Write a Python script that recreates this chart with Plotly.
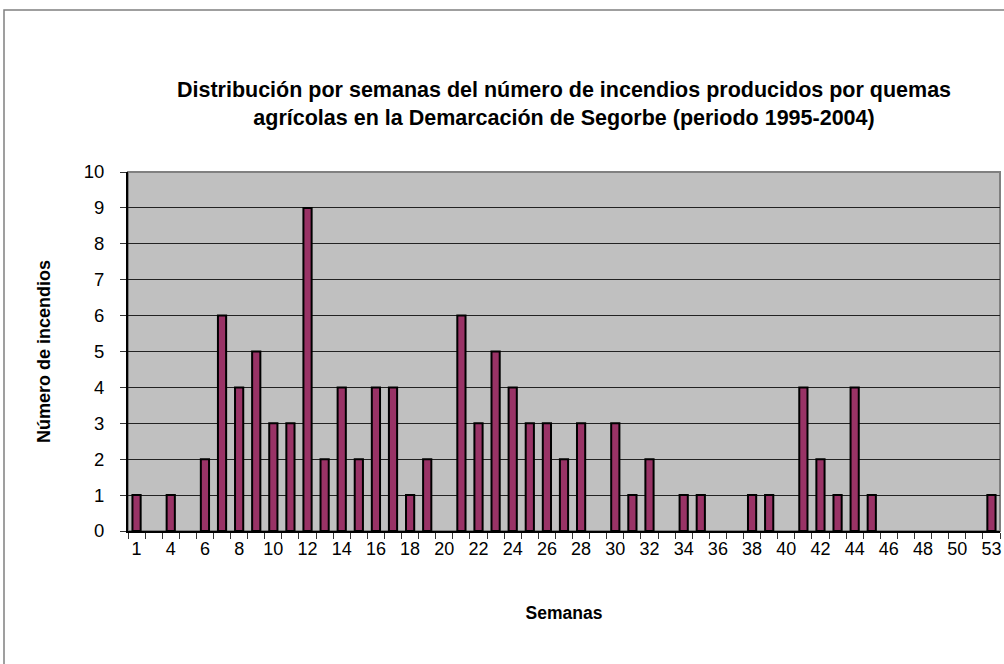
import plotly.graph_objects as go

semanas = ["1", "2", "4", "5", "6", "7", "8", "9", "10", "11", "12", "13", "14", "15", "16",
           "17", "18", "19", "20", "21", "22", "23", "24", "25", "26", "27", "28", "29", "30",
           "31", "32", "33", "34", "35", "36", "37", "38", "39", "40", "41", "42", "43", "44",
           "45", "46", "47", "48", "49", "50", "52", "53"]
incendios = [1, 0, 1, 0, 2, 6, 4, 5, 3, 3, 9, 2, 4, 2, 4,
             4, 1, 2, 0, 6, 3, 5, 4, 3, 3, 2, 3, 0, 3,
             1, 2, 0, 1, 1, 0, 0, 1, 1, 0, 4, 2, 1, 4,
             1, 0, 0, 0, 0, 0, 0, 1]
etiquetas_x = ["1", "4", "6", "8", "10", "12", "14", "16", "18", "20", "22", "24", "26",
               "28", "30", "32", "34", "36", "38", "40", "42", "44", "46", "48", "50", "53"]

titulo = ("Distribución por semanas del número de incendios producidos por quemas<br>"
          "agrícolas en la Demarcación de Segorbe (periodo 1995-2004)")

W, H = 1004, 664
L, R, T, B = 128, 4, 172, 133
pw, ph = W - L - R, H - T - B

FONT = "Liberation Sans, Arial, sans-serif"

# zero-valued weeks draw no bar (as in the original chart)
y_vals = [v if v > 0 else None for v in incendios]

fig = go.Figure()
fig.add_trace(go.Bar(
    x=semanas, y=y_vals,
    marker=dict(color="#993366", line=dict(color="#000000", width=2)),
    width=0.48,
    hoverinfo="x+y",
))

ticktext = [s if s in etiquetas_x else "" for s in semanas]

fig.update_layout(
    width=W, height=H,
    margin=dict(l=L, r=R, t=T, b=B),
    paper_bgcolor="white",
    plot_bgcolor="#C0C0C0",
    showlegend=False,
    font=dict(family=FONT, color="black"),
    title=dict(text="<b>" + titulo + "</b>", x=(L + pw / 2) / W, xanchor="center",
               y=1 - 97 / H, yanchor="middle",
               font=dict(size=21.5, family=FONT)),
    xaxis=dict(
        type="category",
        tickmode="array", tickvals=semanas, ticktext=ticktext,
        tickson="boundaries", ticks="outside", ticklen=6, tickcolor="#333333",
        tickangle=0,
        showline=True, linecolor="black", linewidth=2,
        showgrid=False, zeroline=False,
        tickfont=dict(size=18),
        title=dict(text="<b>Semanas</b>", font=dict(size=17.5), standoff=49),
        range=[-0.5, len(semanas) - 0.5],
    ),
    yaxis=dict(
        range=[0, 10], dtick=1, tick0=0,
        ticks="outside", ticklen=6, tickcolor="#333333",
        ticklabelstandoff=12,
        showline=True, linecolor="black", linewidth=2,
        showgrid=True, gridcolor="#222222", gridwidth=1,
        zeroline=False,
        tickfont=dict(size=18.5),
        title=dict(text="<b>Número de incendios</b>", font=dict(size=18), standoff=28),
    ),
)

# plot-area border (top/right in grey)
fig.add_shape(type="rect", xref="paper", yref="paper", x0=0, y0=0, x1=1, y1=1,
              line=dict(color="#808080", width=2), fillcolor="rgba(0,0,0,0)", layer="below")
# outer chart frame
fig.add_shape(type="rect", xref="paper", yref="paper",
              x0=(4 - L) / pw, x1=(W + 5 - L) / pw,
              y0=-(H + 5 - T - ph) / ph, y1=(T + ph - 10) / ph,
              line=dict(color="#808080", width=1.5), fillcolor="rgba(0,0,0,0)")

fig.write_html("out.html",
               config={"displayModeBar": False},
               post_script="document.body.style.margin='0';document.body.style.overflow='hidden';")
